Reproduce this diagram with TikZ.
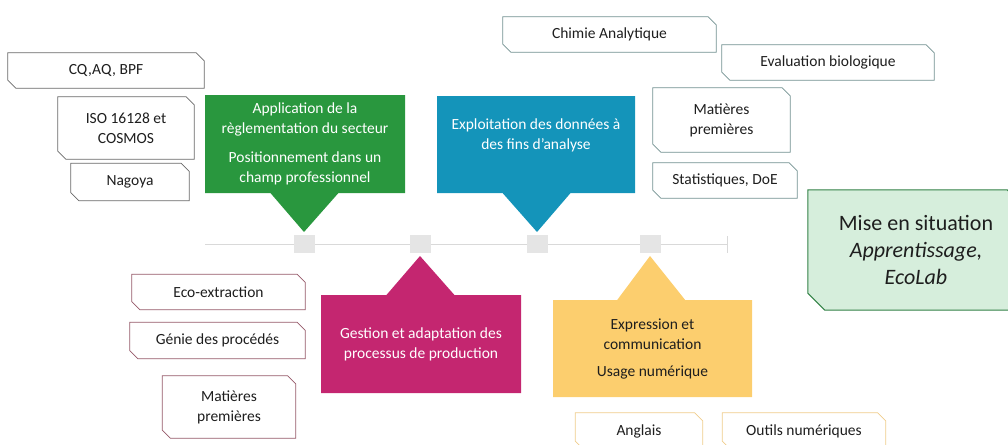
\documentclass[tikz,border=0pt]{standalone}
\usepackage{fontspec}
\setmainfont{Carlito}
\usetikzlibrary{shapes.callouts,backgrounds}
\definecolor{grn}{RGB}{41,151,62}
\definecolor{blu}{RGB}{20,148,186}
\definecolor{mag}{RGB}{196,38,112}
\definecolor{yel}{RGB}{252,206,110}
\definecolor{misefill}{RGB}{214,238,220}
\definecolor{miseline}{RGB}{50,130,70}
\definecolor{edgegrn}{RGB}{105,105,105}
\definecolor{edgeblu}{RGB}{115,145,145}
\definecolor{edgemag}{RGB}{150,90,105}
\definecolor{edgeyel}{RGB}{240,205,140}
\definecolor{txt}{RGB}{30,30,30}
% snipped-corner frame round a named node: node, cut, path options
\newcommand\snipframe[3]{%
  \path[#3] (#1.north west) -- ([xshift=-#2]#1.north east) -- ([yshift=-#2]#1.north east)
    -- (#1.south east) -- ([xshift=#2]#1.south west) -- ([yshift=#2]#1.south west) -- cycle;}
\tikzset{
  snipbox/.style={text=txt, inner sep=0pt, align=center, font=\fontsize{15.5}{20}\selectfont},
  bubble/.style={rectangle callout, callout pointer width=68pt, fill=#1, text=white,
    inner sep=0pt, align=center, font=\fontsize{15.5}{20}\selectfont},
  marker/.style={fill=black!10, minimum width=21pt, minimum height=18pt, inner sep=0pt, outer sep=3pt},
  timeline/.style={draw=black!15, line width=.8pt}
}
\begin{document}
\begin{tikzpicture}[x=1pt,y=-1pt]
  \useasboundingbox (0,0) rectangle (1008,444);
  \coordinate (tlstart) at (205,244);
  \coordinate (tlend) at (727,244);
  \draw[timeline] (tlstart) -- (tlend) ++(0,-8) -- ++(0,17);
  \node[marker] (sq1) at (304,244) {};
  \node[marker] (sq2) at (420,244) {};
  \node[marker] (sq3) at (537,244) {};
  \node[marker] (sq4) at (650,244) {};

  \node[bubble=grn, minimum width=200pt, minimum height=98pt, callout absolute pointer={(sq1.north)}] (regl) at (305,144)
    {Application de la\\règlementation du secteur\\[9pt]Positionnement dans un\\champ professionnel};
  \node[bubble=blu, minimum width=198pt, minimum height=97pt, callout absolute pointer={(sq3.north)}] (expl) at (536,144.5)
    {Exploitation des données à\\des fins d'analyse\\\mbox{}};
  \node[bubble=mag, minimum width=200pt, minimum height=98pt, callout absolute pointer={(sq2.south)}] (prod) at (421,344)
    {Gestion et adaptation des\\processus de production};
  \node[bubble=yel, text=txt, minimum width=199pt, minimum height=97pt, callout absolute pointer={(sq4.south)}] (comm) at (652.5,348.5)
    {Expression et\\communication\\[7pt]Usage numérique};

  \node[snipbox, minimum width=196pt, minimum height=35pt] (cqaq) at (106,70.5) {CQ,AQ, BPF};
  \node[snipbox, minimum width=136pt, minimum height=62pt] (iso) at (126,128) {ISO 16128 et\\COSMOS};
  \node[snipbox, minimum width=118pt, minimum height=37pt] (nagoya) at (130,182) {Nagoya};

  \node[snipbox, minimum width=213pt, minimum height=35pt] (chimie) at (609.5,34.5) {Chimie Analytique};
  \node[snipbox, minimum width=212pt, minimum height=35pt] (evalbio) at (828,62.5) {Evaluation biologique};
  \node[snipbox, minimum width=137pt, minimum height=64pt] (matprem) at (721.5,120) {Matières\\premières};
  \node[snipbox, minimum width=144pt, minimum height=35pt] (stats) at (725,180.5) {Statistiques, DoE};

  \node[snipbox, minimum width=173pt, minimum height=35pt] (eco) at (218.5,292) {Eco-extraction};
  \node[snipbox, minimum width=175pt, minimum height=36pt] (genie) at (217.5,340.5) {Génie des procédés};
  \node[snipbox, minimum width=133pt, minimum height=62pt] (matprod) at (229,407) {Matières\\premières};

  \node[snipbox, minimum width=127pt, minimum height=36pt] (anglais) at (639,431) {Anglais};
  \node[snipbox, minimum width=163pt, minimum height=36pt] (outils) at (804,431) {Outils numériques};

  \node[snipbox, minimum width=216pt, minimum height=120pt, font=\fontsize{22}{27}\selectfont] (mise) at (916,250)
    {Mise en situation\\\textit{Apprentissage,}\\\textit{EcoLab}};

  \begin{scope}[on background layer]
    \foreach \n in {cqaq,iso,nagoya}
      \snipframe{\n}{8pt}{draw=edgegrn, line width=.7pt, fill=white};
    \foreach \n in {chimie,evalbio,matprem,stats}
      \snipframe{\n}{8pt}{draw=edgeblu, line width=.7pt, fill=white};
    \foreach \n in {eco,genie,matprod}
      \snipframe{\n}{8pt}{draw=edgemag, line width=.7pt, fill=white};
    \foreach \n in {anglais,outils}
      \snipframe{\n}{8pt}{draw=edgeyel, line width=.7pt, fill=white};
    \snipframe{mise}{17pt}{draw=miseline, line width=1pt, fill=misefill};
  \end{scope}
\end{tikzpicture}
\end{document}
